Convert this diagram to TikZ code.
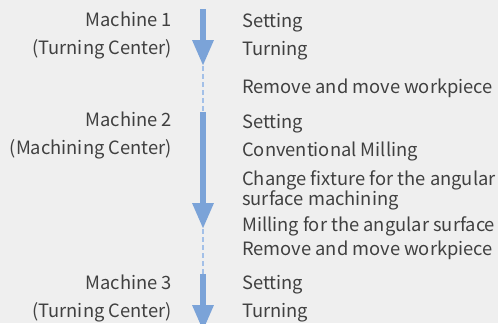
\documentclass[tikz,border=0pt]{standalone}
\usepackage{fontspec}
\setmainfont{Noto Sans CJK JP}
\usetikzlibrary{arrows.meta}
\definecolor{bg}{HTML}{EFEFEF}
\definecolor{txt}{HTML}{404040}
\definecolor{arr}{HTML}{7BA3D8}
\definecolor{dash}{HTML}{A3C0E8}
\tikzset{
  lbl/.style={anchor=base east,inner sep=0pt,text=txt,font=\fontsize{18.4}{20}\selectfont},
  stepitem/.style={anchor=base west,inner sep=0pt,text=txt,font=\fontsize{18.4}{20}\selectfont,align=left},
  flow/.style={draw=arr,line width=6bp,-{Triangle[width=20bp,length=26bp]},shorten >=0pt},
  link/.style={draw=dash,line width=1.5bp,dash pattern=on 5bp off 3bp}
}
\begin{document}
\begin{tikzpicture}[x=1bp,y=-1bp]
\useasboundingbox (0,0) rectangle (498,323);
\fill[bg] (0,0) rectangle (498,323);
\clip (0,0) rectangle (498,323);
% arrows
\coordinate (s1) at (203,9);
\coordinate (e1) at (203,66);
\coordinate (s2) at (203,112);
\coordinate (e2) at (203,229);
\coordinate (s3) at (203,274);
\coordinate (e3) at (203,331);
\draw[link] (e1) -- (s2);
\draw[link] (e2) -- (s3);
\draw[flow] (s1) -- (e1);
\draw[flow] (s2) -- (e2);
\draw[flow] (s3) -- (e3);
% left labels
\node[lbl] (m1) at (172,26) {Machine 1};
\node[lbl] (m1b) at (172,54) {(Turning Center)};
\node[lbl] (m2) at (172,126) {Machine 2};
\node[lbl] (m2b) at (172,154) {(Machining Center)};
\node[lbl] (m3) at (172,289) {Machine 3};
\node[lbl] (m3b) at (172,317) {(Turning Center)};
% right items
\node[stepitem] (a1) at (242,27) {Setting};
\node[stepitem] (a2) at (242,55) {Turning};
\node[stepitem] (a3) at (242,93) {Remove and move workpiece};
\node[stepitem] (b1) at (242,128) {Setting};
\node[stepitem] (b2) at (242,156) {Conventional Milling};
\node[stepitem] (b3) at (242,185) {Change fixture for the angular};
\node[stepitem] (b3b) at (242,205) {surface machining};
\node[stepitem] (b4) at (242,231) {Milling for the angular surface};
\node[stepitem] (b5) at (242,255) {Remove and move workpiece};
\node[stepitem] (c1) at (242,289) {Setting};
\node[stepitem] (c2) at (242,317) {Turning};
\end{tikzpicture}
\end{document}
